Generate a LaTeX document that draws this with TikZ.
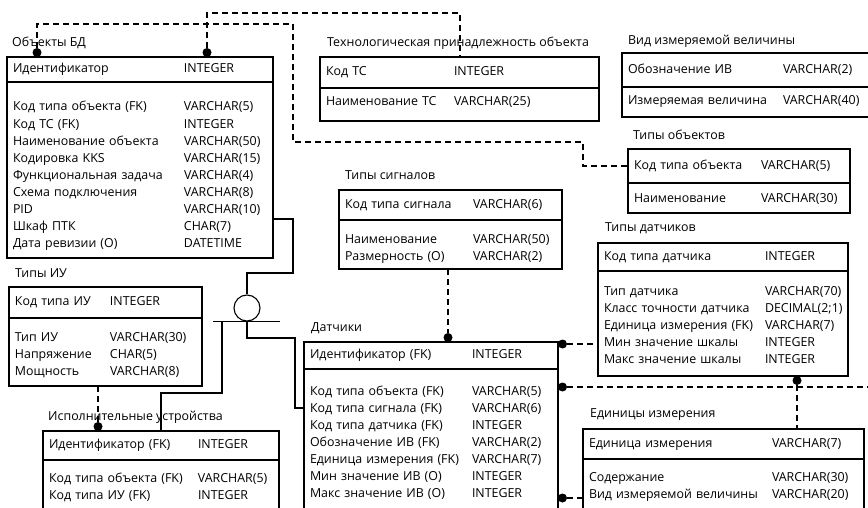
\documentclass[tikz,border=0pt]{standalone}
\usepackage{fontspec}
\setmainfont{Open Sans}
\usetikzlibrary{positioning}

\begin{document}
\begin{tikzpicture}[
  x=1pt, y=-1pt,
  font=\fontsize{12.4}{17.1}\selectfont,
  etitle/.style={anchor=base west, inner sep=0pt},
  ekey/.style={draw, line width=1.1pt, anchor=north west, inner xsep=6pt, inner ysep=0pt, outer sep=0pt},
  eattr/.style={draw, line width=1.1pt, below=0pt of #1, inner xsep=6pt, inner ysep=0pt, outer sep=0pt},
  dot/.style={circle, fill, inner sep=0pt, minimum size=9pt},
  rel/.style={draw, line width=1.3pt, dash pattern=on 6pt off 4pt},
  sub/.style={draw, line width=1.1pt},
  subc/.style={circle, draw, line width=1.1pt, minimum size=26pt, inner sep=0pt}
]
\useasboundingbox (0,0) rectangle (868,508);
\clip (0,0) rectangle (868,508);

\node[etitle] (objT) at (12,47) {Объекты БД};
\node[ekey, text width=254pt, minimum height=25pt] (objK) at (7,57)
  {\begin{tabular}[t]{@{}p{171pt}@{}l@{}}Идентификатор & INTEGER\end{tabular}};
\node[eattr=objK, text width=254pt, text height=29pt, text depth=147pt] (objA)
  {\begin{tabular}[t]{@{}p{171pt}@{}l@{}}
   Код типа объекта (FK) & VARCHAR(5)\\
   Код ТС (FK) & INTEGER\\
   Наименование объекта & VARCHAR(50)\\
   Кодировка KKS & VARCHAR(15)\\
   Функциональная задача & VARCHAR(4)\\
   Схема подключения & VARCHAR(8)\\
   PID & VARCHAR(10)\\
   Шкаф ПТК & CHAR(7)\\
   Дата ревизии (O) & DATETIME
   \end{tabular}};

\node[etitle] (techT) at (327,47) {Технологическая принадлежность объекта};
\node[ekey, text width=267pt, minimum height=31pt] (techK) at (320,57)
  {\begin{tabular}[t]{@{}p{128pt}@{}l@{}}Код ТС & INTEGER\end{tabular}};
\node[eattr=techK, text width=267pt, text height=18pt, text depth=15pt] (techA)
  {\begin{tabular}[t]{@{}p{128pt}@{}l@{}}Наименование ТС & VARCHAR(25)\end{tabular}};

\node[etitle] (vidT) at (628,45) {Вид измеряемой величины};
\node[ekey, text width=248pt, minimum height=34pt] (vidK) at (622,53)
  {\begin{tabular}[t]{@{}p{155pt}@{}l@{}}Обозначение ИВ & VARCHAR(2)\end{tabular}};
\node[eattr=vidK, text width=248pt, text height=18pt, text depth=12pt] (vidA)
  {\begin{tabular}[t]{@{}p{155pt}@{}l@{}}Измеряемая величина & VARCHAR(40)\end{tabular}};

\node[etitle] (tobjT) at (633,140) {Типы объектов};
\node[ekey, text width=210pt, minimum height=34pt] (tobjK) at (628,149)
  {\begin{tabular}[t]{@{}p{127pt}@{}l@{}}Код типа объекта & VARCHAR(5)\end{tabular}};
\node[eattr=tobjK, text width=210pt, text height=19pt, text depth=11pt] (tobjA)
  {\begin{tabular}[t]{@{}p{127pt}@{}l@{}}Наименование & VARCHAR(30)\end{tabular}};

\node[etitle] (sigT) at (345,179) {Типы сигналов};
\node[ekey, text width=211pt, minimum height=30pt] (sigK) at (339,190)
  {\begin{tabular}[t]{@{}p{128pt}@{}l@{}}Код типа сигнала & VARCHAR(6)\end{tabular}};
\node[eattr=sigK, text width=211pt, text height=23pt, text depth=26pt] (sigA)
  {\begin{tabular}[t]{@{}p{128pt}@{}l@{}}
   Наименование & VARCHAR(50)\\
   Размерность (O) & VARCHAR(2)
   \end{tabular}};

\node[etitle] (tsenT) at (605,232) {Типы датчиков};
\node[ekey, text width=238pt, minimum height=28pt] (tsenK) at (598,243)
  {\begin{tabular}[t]{@{}p{161pt}@{}l@{}}Код типа датчика & INTEGER\end{tabular}};
\node[eattr=tsenK, text width=238pt, text height=24pt, text depth=81pt] (tsenA)
  {\begin{tabular}[t]{@{}p{161pt}@{}l@{}}
   Тип датчика & VARCHAR(70)\\
   Класс точности датчика & DECIMAL(2;1)\\
   Единица измерения (FK) & VARCHAR(7)\\
   Мин значение шкалы & INTEGER\\
   Макс значение шкалы & INTEGER
   \end{tabular}};

\node[etitle] (senT) at (311,331) {Датчики};
\node[ekey, text width=242pt, minimum height=27pt] (senK) at (304,342)
  {\begin{tabular}[t]{@{}p{162pt}@{}l@{}}Идентификатор (FK) & INTEGER\end{tabular}};
\node[eattr=senK, text width=242pt, text height=26pt, text depth=130pt] (senA)
  {\begin{tabular}[t]{@{}p{162pt}@{}l@{}}
   Код типа объекта (FK) & VARCHAR(5)\\
   Код типа сигнала (FK) & VARCHAR(6)\\
   Код типа датчика (FK) & INTEGER\\
   Обозначение ИВ (FK) & VARCHAR(2)\\
   Единица измерения (FK) & VARCHAR(7)\\
   Мин значение ИВ (O) & INTEGER\\
   Макс значение ИВ (O) & INTEGER
   \end{tabular}};

\node[etitle] (tiuT) at (15,277) {Типы ИУ};
\node[ekey, text width=181pt, minimum height=31pt] (tiuK) at (9,287)
  {\begin{tabular}[t]{@{}p{95pt}@{}l@{}}Код типа ИУ & INTEGER\end{tabular}};
\node[eattr=tiuK, text width=181pt, text height=23pt, text depth=45pt] (tiuA)
  {\begin{tabular}[t]{@{}p{95pt}@{}l@{}}
   Тип ИУ & VARCHAR(30)\\
   Напряжение & CHAR(5)\\
   Мощность & VARCHAR(8)
   \end{tabular}};

\node[etitle] (actT) at (48,420) {Исполнительные устройства};
\node[ekey, text width=224pt, minimum height=29pt] (actK) at (43,431)
  {\begin{tabular}[t]{@{}p{149pt}@{}l@{}}Идентификатор (FK) & INTEGER\end{tabular}};
\node[eattr=actK, text width=224pt, text height=22pt, text depth=40pt] (actA)
  {\begin{tabular}[t]{@{}p{149pt}@{}l@{}}
   Код типа объекта (FK) & VARCHAR(5)\\
   Код типа ИУ (FK) & INTEGER
   \end{tabular}};

\node[etitle] (unitT) at (590,417) {Единицы измерения};
\node[ekey, text width=269pt, minimum height=30pt] (unitK) at (583,429)
  {\begin{tabular}[t]{@{}p{183pt}@{}l@{}}Единица измерения & VARCHAR(7)\end{tabular}};
\node[eattr=unitK, text width=269pt, text height=22pt, text depth=40pt] (unitA)
  {\begin{tabular}[t]{@{}p{183pt}@{}l@{}}
   Содержание & VARCHAR(30)\\
   Вид измеряемой величины & VARCHAR(20)
   \end{tabular}};

\node[subc] (subC) at (247,308) {};

\coordinate (a1) at (293,24);
\coordinate (a2) at (583,142);
\coordinate (b1) at (460,13);
\coordinate (s0) at (293,219);
\coordinate (s1) at (293,273);
\coordinate (s2) at (222,393);
\coordinate (s3) at (295,338);
\coordinate (s4) at (295,408);
\coordinate (rim) at (872,0);

\draw[sub] (s0 -| objA.east) -- (s0) -- (s1) -| (subC.north);
\draw[sub] ([xshift=-34pt]subC.south) -- ([xshift=33pt]subC.south);
\draw[sub] (s2 |- subC.south) -- (s2) -| (actK.north);
\draw[sub] (subC.south) |- (s3) -- (s4) -- (s4 -| senA.west);

\node[dot] (dotA) at (37,52.5) {};
\node[dot] (dotB) at (207,52.5) {};
\node[dot] (dotC) at (98,426.5) {};
\node[dot] (dotD) at (448,337.5) {};
\node[dot] (dotE) at (562.5,344) {};
\node[dot] (dotF) at (562.5,387) {};
\node[dot] (dotG) at (797,380.5) {};
\node[dot] (dotH) at (562.5,498) {};

\draw[rel] (dotA) |- (a1) |- (a2) |- (tobjK.west);
\draw[rel] (dotB) |- (b1) -- (b1 |- techK.north);
\draw[rel] (dotC |- tiuA.south) -- (dotC);
\draw[rel] (dotD |- sigA.south) -- (dotD);
\draw[rel] (dotE) -- (dotE -| tsenA.west);
\draw[rel] (dotF) -- (dotF -| rim);
\draw[rel] (dotG) -- (dotG |- unitK.north);
\draw[rel] (dotH) -- (dotH -| unitA.west);

\end{tikzpicture}
\end{document}
